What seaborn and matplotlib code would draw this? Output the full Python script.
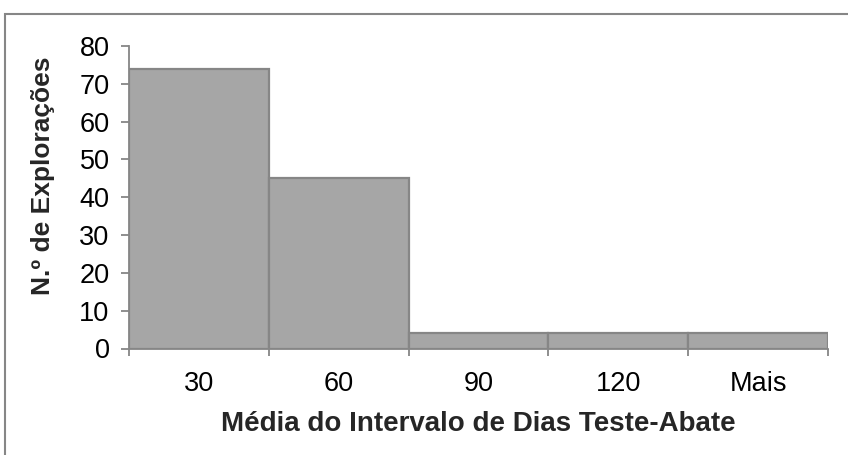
import matplotlib
matplotlib.use("Agg")
import matplotlib.pyplot as plt
import seaborn as sns
import pandas as pd
import numpy as np
from matplotlib.patches import Rectangle

# Histogram bins (upper limits in days) and farm counts
bins = ["30", "60", "90", "120", "Mais"]
counts = [74, 45, 4, 4, 4]
y_ticks = [0, 10, 20, 30, 40, 50, 60, 70, 80]

sns.set_theme(style="white")
plt.rcParams["font.family"] = ["Liberation Sans", "DejaVu Sans"]

df = pd.DataFrame({"bin": bins, "count": counts})

fig = plt.figure(figsize=(8.48, 4.55), dpi=100)
ax = fig.add_axes([129 / 848, 1 - 348.5 / 455, 699 / 848, 302.5 / 455])

grey_edge = "#868686"
sns.barplot(data=df, x="bin", y="count", ax=ax, width=1.0,
            color="#a6a6a6", edgecolor=grey_edge, linewidth=1.6,
            saturation=1)

ax.set_xlim(-0.5, len(bins) - 0.5)
ax.set_ylim(0, 80)
ax.set_yticks(y_ticks)

# category labels centred, tick marks on the bin boundaries
ax.set_xticks(range(len(bins)))
ax.set_xticklabels(bins)
ax.set_xticks(np.arange(-0.5, len(bins)), minor=True)
ax.tick_params(axis="x", which="major", length=0, pad=16, labelsize=19.5, colors="black")
ax.tick_params(axis="x", which="minor", length=5, width=1.3, color=grey_edge, bottom=True)
ax.tick_params(axis="y", which="major", length=6, width=1.3, color=grey_edge,
               left=True, pad=8, labelsize=19.5, labelcolor="black")

for side in ("top", "right"):
    ax.spines[side].set_visible(False)
for side in ("left", "bottom"):
    ax.spines[side].set_color(grey_edge)
    ax.spines[side].set_linewidth(1.3)

ax.set_xlabel("Média do Intervalo de Dias Teste-Abate", fontsize=20,
              fontweight="bold", labelpad=10)
ax.set_ylabel("N.º de Explorações", fontsize=19, fontweight="bold")
ax.yaxis.set_label_coords(-0.106, 0.572)

# chart-area frame
fig.patches.append(Rectangle((5 / 848, -0.2), 1.2, 1 - 14 / 455 + 0.2,
                             transform=fig.transFigure, fill=False,
                             edgecolor=grey_edge, linewidth=1.5))

fig.savefig("out.png", dpi=100)
